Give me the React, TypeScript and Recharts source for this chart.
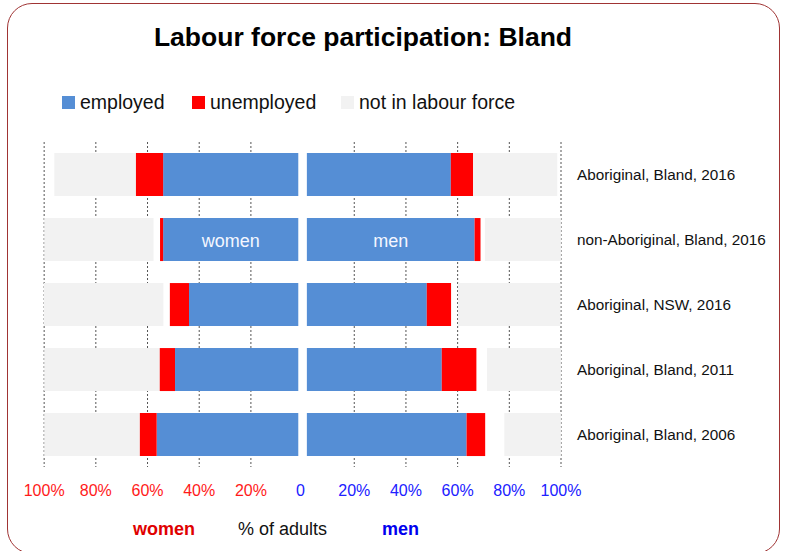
import React from 'react'
import { BarChart, Bar, XAxis, YAxis, CartesianGrid, LabelList } from 'recharts'

const categories = [
  'Aboriginal, Bland, 2016',
  'non-Aboriginal, Bland, 2016',
  'Aboriginal, NSW, 2016',
  'Aboriginal, Bland, 2011',
  'Aboriginal, Bland, 2006',
]

// % of adults
const womenEmployed = [52.3, 52.3, 42.3, 47.7, 54.8]
const womenUnemployed = [10.6, 1.2, 7.4, 6.0, 6.6]
const womenNotStated = [0, 2.5, 2.5, 0, 0]
const womenNotInLabourForce = [31.5, 42.3, 46.2, 44.6, 36.9]

const menEmployed = [55.7, 64.9, 46.4, 52.2, 61.8]
const menUnemployed = [8.6, 2.3, 9.4, 13.4, 7.2]
const menNotStated = [0, 1.7, 2.7, 4.1, 7.4]
const menNotInLabourForce = [32.6, 29.4, 39.6, 28.6, 21.9]

const xTicks = [-100, -80, -60, -40, -20, 0, 20, 40, 60, 80, 100]

// small white gap either side of zero, like the original
const CENTRE_GAP = 1.66

const BLUE = '#558ed5'
const RED = '#ff0000'
const GREY = '#f2f2f2'

const data = categories.map((name, i) => ({
  name,
  wGap: -CENTRE_GAP,
  wEmp: -womenEmployed[i],
  wUnemp: -womenUnemployed[i],
  wNs: -womenNotStated[i],
  wNilf: -womenNotInLabourForce[i],
  mGap: CENTRE_GAP,
  mEmp: menEmployed[i],
  mUnemp: menUnemployed[i],
  mNs: menNotStated[i],
  mNilf: menNotInLabourForce[i],
}))

const font = '"Liberation Sans", Arial, sans-serif'

function XTick({ x, y, payload }: any) {
  const v = payload.value
  const label = v === 0 ? '0' : Math.abs(v) + '%'
  const fill = v < 0 ? '#ff1a1a' : '#2020ff'
  return (
    <text x={v === 0 ? x - 2 : x} y={y} dy={12} textAnchor="middle" fill={fill} fontSize={16} fontFamily={font}>
      {label}
    </text>
  )
}

function sideLabel(text: string) {
  return (props: any) => {
    const { x, y, width, height, index } = props
    if (index !== 1) return null
    return (
      <text x={x + width / 2} y={y + height / 2 + 1} textAnchor="middle" dominantBaseline="central"
        fill="#f4f7ff" fontSize={18} fontFamily={font}>
        {text}
      </text>
    )
  }
}

const legendItems = [
  { label: 'employed', color: BLUE, left: 62 },
  { label: 'unemployed', color: RED, left: 192 },
  { label: 'not in labour force', color: GREY, left: 341 },
]

export default function App() {
  return (
    <div style={{ position: 'absolute', left: 0, top: 0, width: 786, height: 551, background: '#fff', fontFamily: font, overflow: 'hidden' }}>
      <div style={{
        position: 'absolute', left: 7, top: 3, width: 773, height: 551,
        border: '1.5px solid #a03434', borderRadius: 25, boxSizing: 'border-box',
      }} />
      <div style={{ position: 'absolute', left: 0, width: 726, top: 22, textAlign: 'center', fontSize: 26.5, lineHeight: '30px', fontWeight: 'bold', color: '#000' }}>
        Labour force participation: Bland
      </div>
      {legendItems.map(it => (
        <div key={it.label} style={{ position: 'absolute', left: it.left, top: 92, height: 20, display: 'flex', alignItems: 'center' }}>
          <div style={{ width: 13, height: 13, background: it.color, marginRight: 5 }} />
          <span style={{ fontSize: 19.5, lineHeight: '20px', color: '#111' }}>{it.label}</span>
        </div>
      ))}
      <div style={{ position: 'absolute', top: 518, left: 133, fontSize: 18, lineHeight: '22px', fontWeight: 'bold', color: '#e00000' }}>women</div>
      <div style={{ position: 'absolute', top: 518, left: 238, fontSize: 18, lineHeight: '22px', color: '#111' }}>% of adults</div>
      <div style={{ position: 'absolute', top: 518, left: 382, fontSize: 18, lineHeight: '22px', fontWeight: 'bold', color: '#0000ee' }}>men</div>

      <div style={{ position: 'absolute', left: 0, top: 0 }}>
        <BarChart
          width={786}
          height={551}
          data={data}
          layout="vertical"
          stackOffset="sign"
          barCategoryGap="17%"
          margin={{ top: 142, right: 25, bottom: 54, left: 44 }}
        >
          <CartesianGrid
            horizontal={false}
            verticalValues={[-100, -80, -60, -40, -20, 20, 40, 60, 80, 100]}
            stroke="#555"
            strokeDasharray="2 2"
          />
          <XAxis
            type="number"
            domain={[-100, 100]}
            ticks={xTicks}
            height={30}
            axisLine={false}
            tickLine={false}
            tickSize={0}
            tickMargin={17}
            tick={<XTick />}
            interval={0}
          />
          <YAxis
            type="category"
            dataKey="name"
            orientation="right"
            width={200}
            axisLine={false}
            tickLine={false}
            tickSize={0}
            tickMargin={16}
            tick={{ fill: '#111', fontSize: 15.3, fontFamily: font, textAnchor: 'start' }}
          />
          <Bar dataKey="wGap" stackId="a" fill="transparent" isAnimationActive={false} />
          <Bar dataKey="wEmp" stackId="a" fill={BLUE} isAnimationActive={false}>
            <LabelList content={sideLabel('women')} />
          </Bar>
          <Bar dataKey="wUnemp" stackId="a" fill={RED} isAnimationActive={false} />
          <Bar dataKey="wNs" stackId="a" fill="transparent" isAnimationActive={false} />
          <Bar dataKey="wNilf" stackId="a" fill={GREY} isAnimationActive={false} />
          <Bar dataKey="mGap" stackId="a" fill="transparent" isAnimationActive={false} />
          <Bar dataKey="mEmp" stackId="a" fill={BLUE} isAnimationActive={false}>
            <LabelList content={sideLabel('men')} />
          </Bar>
          <Bar dataKey="mUnemp" stackId="a" fill={RED} isAnimationActive={false} />
          <Bar dataKey="mNs" stackId="a" fill="transparent" isAnimationActive={false} />
          <Bar dataKey="mNilf" stackId="a" fill={GREY} isAnimationActive={false} />
        </BarChart>
      </div>
    </div>
  )
}
